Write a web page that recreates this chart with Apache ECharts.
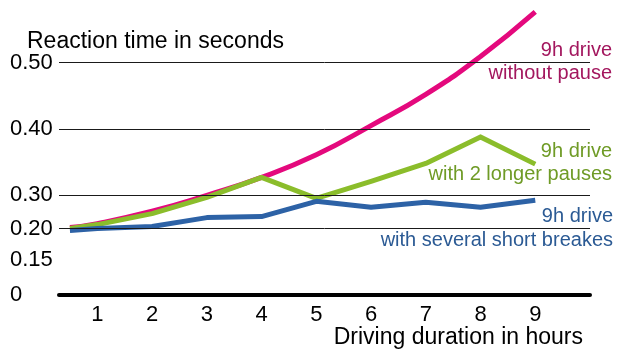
<!DOCTYPE html>
<html>
<head>
<meta charset="utf-8">
<script src="https://cdn.jsdelivr.net/npm/echarts@6/dist/echarts.min.js"></script>
<style>html,body{margin:0;padding:0;background:#fff;}#c{width:617px;height:349px;}</style>
</head>
<body>
<div id="c"></div>
<script>
// Driving hours (x) at which values are read
const hours = [0.5, 1, 2, 3, 4, 5, 6, 7, 8, 9];
// Reaction time in seconds
const noPause      = [0.203, 0.215, 0.252, 0.300, 0.327, 0.361, 0.405, 0.452, 0.509, 0.576];
const longerPauses = [0.200, 0.212, 0.245, 0.294, 0.327, 0.291, 0.321, 0.348, 0.388, 0.347];
const shortBreaks  = [0.197, 0.200, 0.206, 0.233, 0.236, 0.282, 0.264, 0.279, 0.264, 0.285];
// Y tick labels (the original axis is not linear)
const yTickValues = [0, 0.15, 0.20, 0.30, 0.40, 0.50];
const yTickLabels = ['0', '0.15', '0.20', '0.30', '0.40', '0.50'];
const yGridValues = [0.20, 0.30, 0.40, 0.50];
const xTickLabels = [1, 2, 3, 4, 5, 6, 7, 8, 9];

// piecewise axis scale of the original drawing
const TICK_POS = [0, 1.06, 2, 3, 5, 7];
function warp(v) {
  const n = yTickValues.length;
  for (let i = 0; i < n - 1; i++) {
    if (v <= yTickValues[i + 1]) {
      const t = (v - yTickValues[i]) / (yTickValues[i + 1] - yTickValues[i]);
      return TICK_POS[i] + t * (TICK_POS[i + 1] - TICK_POS[i]);
    }
  }
  const slope = (TICK_POS[n - 1] - TICK_POS[n - 2]) / (yTickValues[n - 1] - yTickValues[n - 2]);
  return TICK_POS[n - 1] + (v - yTickValues[n - 1]) * slope;
}
const toData = arr => arr.map((v, i) => [hours[i], warp(v)]);

const FONT = 'Liberation Sans, Arial, sans-serif';
const chart = echarts.init(document.getElementById('c'), null, {renderer: 'canvas'});
chart.setOption({
  animation: false,
  backgroundColor: '#fff',
  grid: {left: 59, right: 27, top: 10, bottom: 54, containLabel: false},
  xAxis: {
    type: 'value', min: 0.3, max: 10,
    axisLine: {show: true, onZero: false, lineStyle: {color: '#000', width: 4}},
    axisTick: {show: false},
    splitLine: {show: false},
    axisLabel: {customValues: xTickLabels, color: '#000', fontSize: 22, fontFamily: FONT, margin: 9}
  },
  yAxis: {
    type: 'value', min: 0, max: 8.58,
    axisLine: {show: false}, axisTick: {show: false}, splitLine: {show: false},
    axisLabel: {
      customValues: TICK_POS, align: 'left', margin: 49, color: '#000', fontSize: 22, fontFamily: FONT,
      formatter: function (val) {
        let best = 0;
        for (let i = 0; i < TICK_POS.length; i++) if (Math.abs(TICK_POS[i] - val) < Math.abs(TICK_POS[best] - val)) best = i;
        return yTickLabels[best];
      }
    }
  },
  series: [
    {
      type: 'line', data: [], silent: true,
      markLine: {
        silent: true, symbol: 'none', label: {show: false},
        lineStyle: {color: '#1a1a1a', width: 1, type: 'solid'},
        data: yGridValues.map(v => ({yAxis: warp(v)}))
      }
    },
    {type: 'line', data: toData(noPause), smooth: true, showSymbol: false, lineStyle: {color: '#e4097d', width: 5}},
    {type: 'line', data: toData(longerPauses), smooth: false, showSymbol: false, lineStyle: {color: '#8bbd2b', width: 5, join: 'round'}},
    {type: 'line', data: toData(shortBreaks), smooth: false, showSymbol: false, lineStyle: {color: '#2d62a6', width: 5, join: 'round'}}
  ],
  graphic: [
    {type: 'text', left: 27, top: 30, style: {text: 'Reaction time in seconds', fill: '#000', font: '23px ' + FONT}},
    {type: 'text', right: 34, top: 326, style: {text: 'Driving duration in hours', fill: '#000', font: '23px ' + FONT}},
    {type: 'text', right: 5, top: 40, style: {text: '9h drive', fill: '#a3175e', font: '20px ' + FONT}},
    {type: 'text', right: 5, top: 63, style: {text: 'without pause', fill: '#a3175e', font: '20px ' + FONT}},
    {type: 'text', right: 5, top: 141, style: {text: '9h drive', fill: '#6f9b26', font: '20px ' + FONT}},
    {type: 'text', right: 5, top: 164, style: {text: 'with 2 longer pauses', fill: '#6f9b26', font: '20px ' + FONT}},
    {type: 'text', right: 4, top: 206, style: {text: '9h drive', fill: '#2b5a94', font: '20px ' + FONT}},
    {type: 'text', right: 4, top: 230, style: {text: 'with several short breakes', fill: '#2b5a94', font: '20px ' + FONT}}
  ]
});
</script>
</body>
</html>
